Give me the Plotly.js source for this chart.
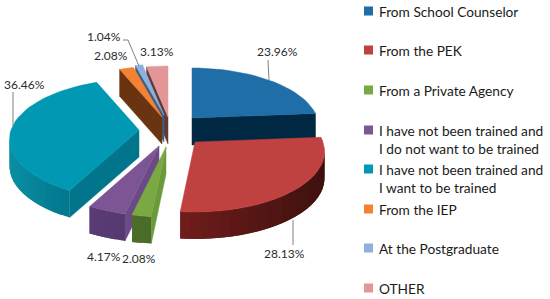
<!DOCTYPE html>
<html><head><meta charset="utf-8">
<script src="https://cdn.plot.ly/plotly-3.0.1.min.js"></script>
<style>html,body{margin:0;padding:0;background:#fff}#c{width:550px;height:299px}</style>
</head><body><div id="c"></div>
<script>
const categories = ["From School Counselor","From the PEK","From a Private Agency","I have not been trained and<br>I do not want to be trained","I have not been trained and<br>I want to be trained","From the IEP","At the Postgraduate","OTHER"];
const values = [23.96,28.13,2.08,4.17,36.46,2.08,1.04,3.13];
const topColors = ["#1f6ea8","#bf4140","#7aa843","#7d5595","#0098b2","#f58232","#8db0dc","#e39697"];
const wallLeft  = ["#012843","#701d1b","#4c6e2a","#5a3c74","#0a8ea3","#6b3410","#4a6688","#6a4242"];
const wallRight = ["#012843","#3e110e","#4a6a28","#553870","#006c82","#6b3410","#4a6688","#6a4242"];
const cutColors = ["#012843","#3e110e","#6b9a3a","#6c4a88","#00758b","#6b3410","#3f5f80","#5e3a3a"];
// geometry of the drawing (pixels)
const apexX = [192,195,166,159,139,162,164,168];
const apexY = [118,142,147,146,130,117,115,117];
const radiusScale = [0.98,1.0,1,1,1,1,1,1];
const RX=128, RY=59, P=0.157, H=27;
const drawOrder = [7,6,5,0,4,3,2,1];
const labelX = [277,284,139,104,24,111,104,157];
const labelY = [51,253,258,256,84,55,36,51];
const leaders = [[[268,60],[269,80]],[[293,220],[293,245]],[[13,92],[13,126]],[[123,40],[128,40],[139,66]]];
const legendY = [11,50,90,139,178,209,248,288];
const legendMarkerY = [11,50,90,130,169,209,248,288];

const total = values.reduce((a,b)=>a+b,0);
let cum=0; const starts=values.map(v=>{const s=cum/total*2*Math.PI;cum+=v;return s;});
function pt(i,t){const d=Math.cos(t),s=1/(1+P*d),k=radiusScale[i];
  return [apexX[i]+Math.sin(t)*s*RX*k, apexY[i]-d*s*RY*k];}
function hex(c){return [1,3,5].map(j=>parseInt(c.substr(j,2),16));}
function mix(a,b,f){const x=hex(a),y=hex(b);return 'rgb('+x.map((v,j)=>Math.round(v+(y[j]-v)*f)).join(',')+')';}
const traces=[];
function poly(pts,color,w){
  traces.push({type:'scatter',mode:'lines',x:pts.map(p=>p[0]).concat(pts[0][0]),y:pts.map(p=>p[1]).concat(pts[0][1]),
    fill:'toself',fillcolor:color,line:{color:color,width:w},hoverinfo:'skip',showlegend:false});
}
drawOrder.forEach(i=>{
  const a0=starts[i],a1=a0+values[i]/total*2*Math.PI,n=Math.max(2,Math.ceil((a1-a0)/(4*Math.PI/180)));
  const arc=[];for(let j=0;j<=n;j++)arc.push(pt(i,a0+(a1-a0)*j/n));
  const apex=[apexX[i],apexY[i]];
  const xs=arc.map(p=>p[0]),minX=Math.min(...xs),maxX=Math.max(...xs);
  const quad=(p,q,c,w)=>{if(q[0]<p[0])poly([p,q,[q[0],q[1]+H],[p[0],p[1]+H]],c,w);};
  quad(apex,arc[0],cutColors[i],0.5);
  quad(arc[n],apex,cutColors[i],0.5);
  // outer wall strips, painted so that each one overlaps the next
  for(let j=0;j<n;j++){
    const f=maxX>minX?((arc[j][0]+arc[j+1][0])/2-minX)/(maxX-minX):0;
    quad(arc[j],arc[Math.min(n,j+2)],mix(wallLeft[i],wallRight[i],f),0);
  }
  poly([apex].concat(arc),topColors[i],0.5);
});
leaders.forEach(l=>traces.push({type:'scatter',mode:'lines',x:l.map(p=>p[0]),y:l.map(p=>p[1]),line:{color:'#808080',width:1},hoverinfo:'skip',showlegend:false}));
traces.push({type:'scatter',mode:'markers',x:categories.map(()=>368.5),y:legendMarkerY,
  marker:{symbol:'square',size:9,color:topColors},hoverinfo:'skip',showlegend:false});
const annotations=values.map((v,i)=>({x:labelX[i],y:labelY[i],xref:'x',yref:'y',text:v.toFixed(2)+'%',showarrow:false,font:{family:'Lato, sans-serif',size:12,color:'#2b2b2b'},xanchor:'center',yanchor:'middle'}))
 .concat(categories.map((c,i)=>({x:377,y:legendY[i],xref:'x',yref:'y',text:c,showarrow:false,align:'left',xanchor:'left',yanchor:'middle',font:{family:'Lato, sans-serif',size:13.7,color:'#1a1a1a'}})));
Plotly.newPlot('c',traces,{width:550,height:299,margin:{l:0,r:0,t:0,b:0},paper_bgcolor:'#fff',plot_bgcolor:'#fff',showlegend:false,
 xaxis:{range:[0,550],visible:false,fixedrange:true},yaxis:{range:[299,0],visible:false,fixedrange:true},annotations:annotations},{displayModeBar:false,staticPlot:true});
</script></body></html>
